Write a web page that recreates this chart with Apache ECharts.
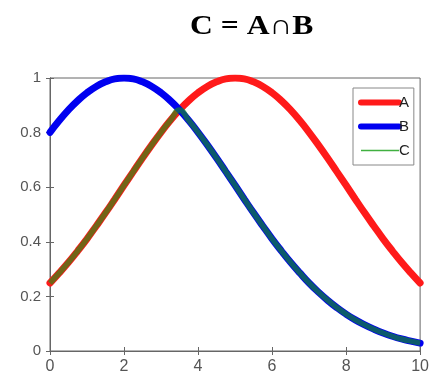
<!DOCTYPE html>
<html>
<head>
<meta charset="utf-8">
<script src="https://cdn.jsdelivr.net/npm/echarts@6/dist/echarts.min.js"></script>
<style>
  html, body { margin: 0; padding: 0; background: #fff; }
  #chart { width: 432px; height: 378px; }
</style>
</head>
<body>
<div id="chart"></div>
<script>
// Sample positions along x
const xs = [0, 0.25, 0.5, 0.75, 1, 1.25, 1.5, 1.75, 2, 2.25, 2.5, 2.75, 3, 3.25, 3.5, 3.75, 4, 4.25, 4.5, 4.75,
            5, 5.25, 5.5, 5.75, 6, 6.25, 6.5, 6.75, 7, 7.25, 7.5, 7.75, 8, 8.25, 8.5, 8.75, 9, 9.25, 9.5, 9.75, 10];

// Membership curve A (peak at 5)
const seriesA = [0.249, 0.286, 0.325, 0.367, 0.411, 0.458, 0.506, 0.556, 0.607, 0.657, 0.707, 0.755, 0.801, 0.844, 0.883, 0.917, 0.946, 0.969, 0.986, 0.997,
                 1.000, 0.997, 0.986, 0.969, 0.946, 0.917, 0.883, 0.844, 0.801, 0.755, 0.707, 0.657, 0.607, 0.556, 0.506, 0.458, 0.411, 0.367, 0.325, 0.286, 0.249];

// Membership curve B (peak at 2)
const seriesB = [0.801, 0.844, 0.883, 0.917, 0.946, 0.969, 0.986, 0.997, 1.000, 0.997, 0.986, 0.969, 0.946, 0.917, 0.883, 0.844, 0.801, 0.755, 0.707, 0.657,
                 0.607, 0.556, 0.506, 0.458, 0.411, 0.367, 0.325, 0.286, 0.249, 0.216, 0.186, 0.159, 0.135, 0.114, 0.096, 0.080, 0.066, 0.054, 0.044, 0.036, 0.029];

// Intersection C (lower of the two curves)
const seriesC = [0.249, 0.286, 0.325, 0.367, 0.411, 0.458, 0.506, 0.556, 0.607, 0.657, 0.707, 0.755, 0.801, 0.844, 0.883, 0.844, 0.801, 0.755, 0.707, 0.657,
                 0.607, 0.556, 0.506, 0.458, 0.411, 0.367, 0.325, 0.286, 0.249, 0.216, 0.186, 0.159, 0.135, 0.114, 0.096, 0.080, 0.066, 0.054, 0.044, 0.036, 0.029];

const xTicks = [0, 2, 4, 6, 8, 10];
const yTicks = [0, 0.2, 0.4, 0.6, 0.8, 1];

const pairs = (ys) => xs.map((x, i) => [x, ys[i]]);

const axisGray = '#666';
const sans = 'Liberation Sans, Arial, sans-serif';

const chart = echarts.init(document.getElementById('chart'), null, { renderer: 'canvas' });

chart.setOption({
  animation: false,
  backgroundColor: '#fff',
  graphic: [{
    type: 'text',
    x: 190,
    y: 27,
    scaleX: 1.13,
    style: {
      text: 'C = A\u2229B',
      fill: '#000',
      font: 'bold 28px "Liberation Serif", "Times New Roman", serif',
      verticalAlign: 'middle',
      align: 'left'
    }
  }],
  grid: { left: 50, right: 6, top: 78, bottom: 27, show: true, borderColor: axisGray, borderWidth: 1, backgroundColor: 'transparent' },
  legend: {
    orient: 'vertical',
    left: 353,
    top: 88,
    width: 62,
    padding: [7, 4, 7, 5],
    itemGap: 9,
    itemWidth: 38,
    itemHeight: 14,
    borderColor: '#888',
    borderWidth: 1,
    backgroundColor: '#fff',
    textStyle: { color: '#222', fontSize: 15, fontFamily: sans, padding: [0, 0, 0, -5] },
    data: [
      { name: 'A', itemStyle: { opacity: 0 }, lineStyle: { color: '#ff1a1a', width: 6 } },
      { name: 'B', itemStyle: { opacity: 0 }, lineStyle: { color: '#0000f0', width: 6 } },
      { name: 'C', itemStyle: { opacity: 0 }, lineStyle: { color: '#40b040', width: 1.5, opacity: 1 } }
    ]
  },
  xAxis: [{
    type: 'value', min: 0, max: 10, interval: 2,
    axisLine: { show: true, lineStyle: { color: axisGray } },
    axisTick: { show: true, inside: true, length: 4, lineStyle: { color: axisGray } },
    axisLabel: { margin: 8, color: '#555', fontSize: 16, fontFamily: sans,
      formatter: (v) => (xTicks.includes(v) ? String(v) : '') },
    splitLine: { show: false }
  }, {
    type: 'value', position: 'top', min: 0, max: 10, interval: 2,
    axisLine: { show: true, lineStyle: { color: axisGray } },
    axisTick: { show: true, inside: true, length: 4, lineStyle: { color: axisGray } },
    axisLabel: { show: false },
    splitLine: { show: false }
  }],
  yAxis: [{
    type: 'value', min: 0, max: 1, interval: 0.2,
    axisLine: { show: true, lineStyle: { color: axisGray } },
    axisTick: { show: true, inside: true, length: 4, lineStyle: { color: axisGray } },
    axisLabel: { margin: 9, color: '#555', fontSize: 15, fontFamily: sans,
      formatter: (v) => {
        const t = yTicks.find((k) => Math.abs(k - v) < 1e-9);
        return t === undefined ? '' : String(t);
      } },
    splitLine: { show: false }
  }, {
    type: 'value', position: 'right', min: 0, max: 1, interval: 0.2,
    axisLine: { show: true, lineStyle: { color: axisGray } },
    axisTick: { show: true, inside: true, length: 4, lineStyle: { color: axisGray } },
    axisLabel: { show: false },
    splitLine: { show: false }
  }],
  series: [
    { name: 'A', type: 'line', smooth: true, symbol: 'none', data: pairs(seriesA),
      lineStyle: { color: '#ff1a1a', width: 7, cap: 'round' }, itemStyle: { color: '#ff1a1a' } },
    { name: 'B', type: 'line', smooth: true, symbol: 'none', data: pairs(seriesB),
      lineStyle: { color: '#0000f0', width: 7, cap: 'round' }, itemStyle: { color: '#0000f0' } },
    { name: 'C', type: 'line', smooth: true, symbol: 'none', data: pairs(seriesC),
      lineStyle: { color: '#149614', width: 5.5, opacity: 0.6 }, itemStyle: { color: '#40b040' } }
  ]
});
</script>
</body>
</html>
